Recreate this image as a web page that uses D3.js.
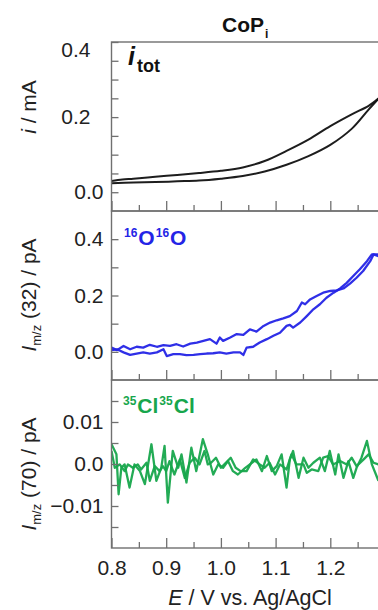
<!DOCTYPE html>
<html><head><meta charset="utf-8">
<script src="https://cdn.jsdelivr.net/npm/d3@7"></script>
<style>body{margin:0;background:#fff}svg{display:block}</style>
</head><body><svg id="c" width="378" height="610"></svg>
<script>
// ---------- data ----------
const itotForwardE = [0.80,0.84,0.88,0.92,0.96,1.00,1.04,1.08,1.12,1.16,1.20,1.24,1.27,1.29];
const itotForward  = [0.024,0.026,0.027,0.029,0.031,0.036,0.043,0.055,0.073,0.096,0.126,0.170,0.220,0.252];
const itotReverseE = [0.80,0.82,0.84,0.88,0.92,0.96,1.00,1.04,1.08,1.12,1.16,1.20,1.24,1.27,1.29];
const itotReverse  = [0.030,0.034,0.036,0.041,0.046,0.051,0.057,0.066,0.083,0.110,0.140,0.176,0.208,0.230,0.252];

const o2ReverseE = [0.800,0.810,0.822,0.834,0.846,0.858,0.870,0.883,0.895,0.907,0.919,0.931,0.944,0.956,0.968,0.980,0.992,0.998,1.004,1.017,1.029,1.041,1.053,1.065,1.078,1.090,1.102,1.114,1.126,1.139,1.148,1.154,1.163,1.175,1.187,1.200,1.212,1.224,1.236,1.248,1.260,1.273,1.279,1.288];
const o2Reverse  = [0.015,0.006,0.021,0.009,0.018,0.015,0.025,0.018,0.024,0.021,0.027,0.019,0.029,0.033,0.039,0.045,0.029,0.051,0.039,0.051,0.063,0.060,0.080,0.072,0.092,0.104,0.112,0.119,0.127,0.145,0.175,0.169,0.186,0.198,0.210,0.216,0.218,0.225,0.242,0.263,0.287,0.322,0.346,0.340];
const o2ForwardE = [0.800,0.810,0.822,0.834,0.846,0.858,0.870,0.883,0.895,0.901,0.913,0.925,0.937,0.950,0.962,0.974,0.986,0.998,1.010,1.023,1.035,1.041,1.047,1.059,1.071,1.084,1.096,1.108,1.120,1.126,1.132,1.145,1.157,1.169,1.181,1.193,1.206,1.218,1.230,1.242,1.254,1.267,1.276,1.288];
const o2Forward  = [0.006,0.009,-0.002,-0.011,-0.006,-0.002,-0.006,-0.002,0.009,-0.015,-0.008,-0.008,-0.012,-0.011,-0.008,-0.006,-0.005,-0.002,-0.006,-0.002,-0.002,-0.011,0.015,0.018,0.033,0.045,0.057,0.068,0.092,0.096,0.086,0.104,0.127,0.151,0.169,0.192,0.210,0.225,0.245,0.269,0.293,0.322,0.346,0.346];

// Cl2 values in units of 0.001 pA
const cl2ForwardE = [0.800,0.809,0.813,0.818,0.824,0.833,0.842,0.852,0.861,0.873,0.882,0.891,0.897,0.903,0.912,0.922,0.928,0.937,0.946,0.955,0.967,0.976,0.986,0.995,1.004,1.013,1.022,1.031,1.044,1.053,1.065,1.075,1.084,1.093,1.102,1.111,1.120,1.126,1.132,1.142,1.151,1.160,1.169,1.181,1.190,1.199,1.209,1.215,1.224,1.233,1.242,1.248,1.257,1.267,1.276,1.288];
const cl2Forward  = [4.7,2.3,-7.2,-0.9,-0.1,-5.6,-0.1,-1.7,-4.8,4.7,-4.0,-0.9,4.3,-9.2,3.1,-0.9,2.3,-4.4,3.9,-1.7,5.9,2.3,-2.5,-0.1,-0.9,0.7,-1.7,-2.5,-1.0,-0.1,1.1,-1.7,1.9,-1.7,-0.5,2.3,-5.6,1.1,3.1,-3.3,1.5,-0.9,0.3,1.5,-1.7,3.1,-2.5,2.3,-3.3,0.7,-3.3,-0.9,1.5,5.5,-0.1,-4.0];
const cl2ReverseE = [0.800,0.806,0.815,0.824,0.830,0.839,0.848,0.854,0.864,0.870,0.879,0.888,0.894,0.900,0.906,0.915,0.925,0.934,0.943,0.952,0.961,0.970,0.976,0.982,0.991,1.000,1.009,1.018,1.027,1.036,1.047,1.059,1.071,1.080,1.089,1.099,1.108,1.120,1.129,1.138,1.151,1.157,1.166,1.178,1.187,1.196,1.205,1.218,1.230,1.239,1.248,1.261,1.270,1.279,1.288];
const cl2Reverse  = [3.1,-0.9,-0.1,-1.7,-0.1,-0.9,-0.1,-1.3,0.3,-4.0,-0.5,-1.7,-0.5,-1.7,0.7,-2.5,1.1,-3.3,0.3,1.5,-0.1,3.1,-0.1,0.3,1.5,-0.9,0.3,1.5,-0.9,-1.7,-1.7,1.1,-0.1,-0.9,0.3,-2.5,-0.1,-1.3,2.3,-0.1,-0.1,-2.1,-1.3,-1.7,1.5,1.9,-0.1,0.7,-0.1,1.5,-0.5,1.1,2.3,0.3,-0.1];

const xMajorTicks = [0.8,0.9,1.0,1.1,1.2];
const xMinorTicks = [0.85,0.95,1.05,1.15,1.25];
const xTickLabels = ["0.8","0.9","1.0","1.1","1.2"];
const itotTicks = [0,0.05,0.1,0.15,0.2,0.25,0.3,0.35,0.4];
const itotLabels = [0,0.2,0.4];
const o2Ticks = [0,0.1,0.2,0.3,0.4];
const o2Labels = [0,0.2,0.4];
const cl2Ticks = [-0.015,-0.01,-0.005,0,0.005,0.01,0.015];
const cl2Labels = [-0.01,0,0.01];

// ---------- drawing ----------
const svg = d3.select("#c");
const FONT = "'Liberation Sans', Arial, Helvetica, sans-serif";
const FRAME = "#707070";
const BLUE = "#2424e6", GREEN = "#17a64c";
const x = d3.scaleLinear().domain([0.8,1.3]).range([111.5,385]);

const panels = [
  {key:"itot", top:42, bottom:211, domain:[-0.05,0.4], ticks:itotTicks, labels:itotLabels,
   fmt:d=>d3.format(".1f")(d), color:"#111", width:2,
   series:[[itotForwardE,itotForward],[itotReverseE,itotReverse]], scale:1},
  {key:"o2", top:211, bottom:380, domain:[-0.1,0.5], ticks:o2Ticks, labels:o2Labels,
   fmt:d=>d3.format(".1f")(d), color:BLUE, width:2.3,
   series:[[o2ForwardE,o2Forward],[o2ReverseE,o2Reverse]], scale:1},
  {key:"cl2", top:380, bottom:548, domain:[-0.02,0.02], ticks:cl2Ticks, labels:cl2Labels,
   fmt:d=>d===0?"0.0":d3.format(".2f")(d).replace("-","\u2212"), color:GREEN, width:2.3,
   series:[[cl2ForwardE,cl2Forward],[cl2ReverseE,cl2Reverse]], scale:0.001}
];

panels.forEach((p,i)=>{
  const y = d3.scaleLinear().domain(p.domain).range([p.bottom,p.top]);
  p.y = y;
  const cid = "clip"+i;
  svg.append("clipPath").attr("id",cid).append("rect")
    .attr("x",x.range()[0]).attr("y",p.top).attr("width",x.range()[1]-x.range()[0]).attr("height",p.bottom-p.top);
  const line = d3.line().x(d=>x(d[0])).y(d=>y(d[1])).curve(p.key==="itot"?d3.curveCatmullRom:d3.curveLinear);
  p.series.forEach(([es,vs])=>{
    const pts = es.map((e,j)=>[e, vs[j]*p.scale]);
    svg.append("path").attr("clip-path",`url(#${cid})`).attr("d",line(pts))
      .attr("fill","none").attr("stroke",p.color).attr("stroke-width",p.width)
      .attr("stroke-linejoin","round").attr("stroke-opacity",0.95);
  });

  // frame
  svg.append("rect").attr("x",x.range()[0]).attr("y",p.top)
    .attr("width",x.range()[1]-x.range()[0]).attr("height",p.bottom-p.top)
    .attr("fill","none").attr("stroke",FRAME).attr("stroke-width",1.4);

  // y ticks (inward)
  const gy = svg.append("g").attr("transform",`translate(${x.range()[0]},0)`)
    .call(d3.axisRight(y).tickValues(p.ticks).tickSize(7).tickFormat(""));
  gy.select(".domain").remove();
  gy.selectAll("line").attr("stroke",FRAME).attr("stroke-width",1.3);

  // y labels
  const gl = svg.append("g").attr("transform",`translate(${x.range()[0]},0)`)
    .call(d3.axisLeft(y).tickValues(p.labels).tickSize(0).tickPadding(8).tickFormat(p.fmt));
  gl.select(".domain").remove();
  gl.selectAll("text").attr("font-family",FONT).attr("font-size",21).attr("fill","#222");
  if(p.key==="itot"){
    gl.selectAll(".tick").filter(d=>d>0).select("text").attr("dx",-13);
    gl.selectAll(".tick").filter(d=>d===0.4).select("text").attr("dy","0.7em");
  }

  // x ticks (inward from bottom)
  const gxM = svg.append("g").attr("transform",`translate(0,${p.bottom})`)
    .call(d3.axisTop(x).tickValues(xMajorTicks).tickSize(10).tickFormat(""));
  const gxm = svg.append("g").attr("transform",`translate(0,${p.bottom})`)
    .call(d3.axisTop(x).tickValues(xMinorTicks).tickSize(6).tickFormat(""));
  [gxM,gxm].forEach(g=>{g.select(".domain").remove(); g.selectAll("line").attr("stroke",FRAME).attr("stroke-width",1.3);});
});

// x tick labels
const gxl = svg.append("g").attr("transform",`translate(0,548)`)
  .call(d3.axisBottom(x).tickValues(xMajorTicks).tickSize(0).tickPadding(12).tickFormat((d,i)=>xTickLabels[i]));
gxl.select(".domain").remove();
gxl.selectAll("text").attr("font-family",FONT).attr("font-size",21).attr("fill","#222");

// x axis title
const xt = svg.append("text").attr("x",250).attr("y",605).attr("text-anchor","middle")
  .attr("font-family",FONT).attr("font-size",21.5).attr("fill","#222");
xt.append("tspan").attr("font-style","italic").text("E");
xt.append("tspan").text(" / V vs. Ag/AgCl");

// y axis titles
function yTitle(cy, build){
  const t = svg.append("text").attr("transform",`translate(36,${cy}) rotate(-90)`)
    .attr("text-anchor","middle").attr("font-family",FONT).attr("font-size",21).attr("fill","#222");
  build(t);
}
yTitle(107, t=>{
  t.append("tspan").attr("font-style","italic").text("i");
  t.append("tspan").text(" / mA");
});
[[295,"(32)"],[474,"(70)"]].forEach(([cy,m])=>{
  yTitle(cy, t=>{
    t.append("tspan").attr("font-style","italic").text("I");
    t.append("tspan").attr("font-size",13).attr("dy",5).text("m/z");
    t.append("tspan").attr("dy",-5).text(" " + m + " / pA");
  });
});

// title
const tt = svg.append("text").attr("x",222).attr("y",31.5).attr("font-family",FONT)
  .attr("font-weight","bold").attr("font-size",21).attr("fill","#111");
tt.append("tspan").text("CoP");
tt.append("tspan").attr("font-size",12).attr("dy",6).attr("dx",1).text("i");

// panel labels
const it = svg.append("text").attr("x",128).attr("y",65).attr("font-family",FONT)
  .attr("font-weight","bold").attr("fill","#111");
it.append("tspan").attr("font-style","italic").attr("font-size",25).text("i");
it.append("tspan").attr("font-size",18).attr("dy",7).attr("dx",2).text("tot");

function isoLabel(x0,y0,color,sup,el,size){
  const t = svg.append("text").attr("x",x0).attr("y",y0).attr("font-family",FONT)
    .attr("font-weight","bold").attr("fill",color);
  t.append("tspan").attr("font-size",12).attr("dy",-8).text(sup);
  t.append("tspan").attr("font-size",size).attr("dy",8).attr("dx",1).text(el);
  t.append("tspan").attr("font-size",12).attr("dy",-8).attr("dx",1).text(sup);
  t.append("tspan").attr("font-size",size).attr("dy",8).attr("dx",1).text(el);
}
isoLabel(124,245,BLUE,"16","O",21);
isoLabel(123,413,GREEN,"35","Cl",21);
</script></body></html>
